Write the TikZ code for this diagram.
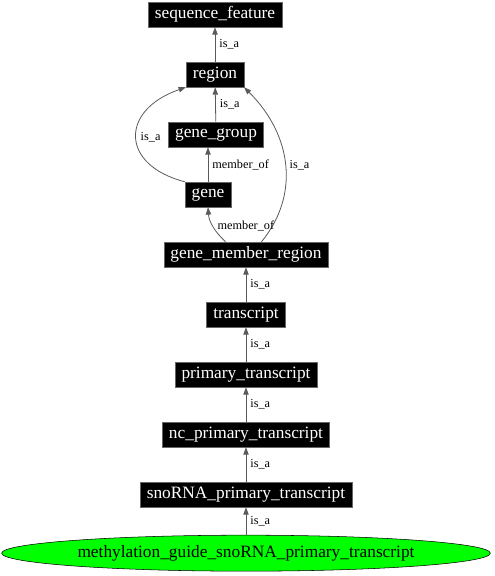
\documentclass[tikz,border=0pt]{standalone}
\usepackage{fontspec}
\setmainfont{Liberation Serif}
\usetikzlibrary{arrows.meta,shapes.geometric}

\begin{document}
\begin{tikzpicture}[x=0.75pt,y=-0.75pt,node distance=45pt]
    \definecolor{mygreen}{RGB}{0,255,0}
    \definecolor{myedge}{RGB}{90,90,90}

    \tikzset{>={Triangle[length=5.5pt,width=4pt]}}
    \tikzstyle{term}=[rectangle,fill=black,draw=black!60,text=white,inner xsep=5pt,inner ysep=2pt,minimum height=18.75pt,font=\fontsize{13}{15}\selectfont]  % black term box
    \tikzstyle{leaf}=[ellipse,fill=mygreen,draw=black,minimum width=366.5pt,minimum height=27pt,inner sep=0pt,font=\fontsize{13}{15}\selectfont]  % the green term
    \tikzstyle{rel}=[font=\fontsize{9.2}{10}\selectfont,inner sep=3pt]  % edge labels
    \tikzstyle{link}=[->,draw=myedge,line width=0.6pt]

    \useasboundingbox (0,0) rectangle (494,576);

    % terms
    \node[term](seqfeat) at (215,14.5){sequence\_feature};
    \node[term,below of=seqfeat](region){region};
    \node[term,below of=region,xshift=0.75pt](genegroup){gene\_group};
    \node[term,below of=genegroup,xshift=-6pt](gene){gene};
    \node[term,below of=gene,xshift=28.5pt](gmr){gene\_member\_region};
    \node[term,below of=gmr](transcript){transcript};
    \node[term,below of=transcript](primary){primary\_transcript};
    \node[term,below of=primary](ncprimary){nc\_primary\_transcript};
    \node[term,below of=ncprimary](snoprimary){snoRNA\_primary\_transcript};
    \node[leaf,below of=snoprimary,node distance=44pt](methyl){methylation\_guide\_snoRNA\_primary\_transcript};

    % edge ends on the top of gene_member_region
    \coordinate(gmrleft) at ([xshift=46.5pt]gmr.north west);
    \coordinate(gmrright) at ([xshift=73.5pt]gmr.north west);

    % relations
    \draw[link](region)--node[rel,right]{is\_a}(seqfeat);
    \draw[link](genegroup)--node[rel,right]{is\_a}(region);
    \draw[link](gene.north)--node[rel,right]{member\_of}(gene.north |- genegroup.south);
    \draw[link](gene.north west) .. controls (120,165) and (120,110) .. node[rel,pos=0.5,right]{is\_a}(region.south west);
    \draw[link](gmrright) .. controls (300,195) and (292,135) .. node[rel,pos=0.5,right]{is\_a}(region.south east);
    \draw[link](gmrleft) .. controls (215,232) and (209,222) .. node[rel,pos=0.5,right]{member\_of}(gene.south);
    \draw[link](transcript)--node[rel,right]{is\_a}(gmr);
    \draw[link](primary)--node[rel,right]{is\_a}(transcript);
    \draw[link](ncprimary)--node[rel,right]{is\_a}(primary);
    \draw[link](snoprimary)--node[rel,right]{is\_a}(ncprimary);
    \draw[link](methyl)--node[rel,right]{is\_a}(snoprimary);
\end{tikzpicture}
\end{document}
